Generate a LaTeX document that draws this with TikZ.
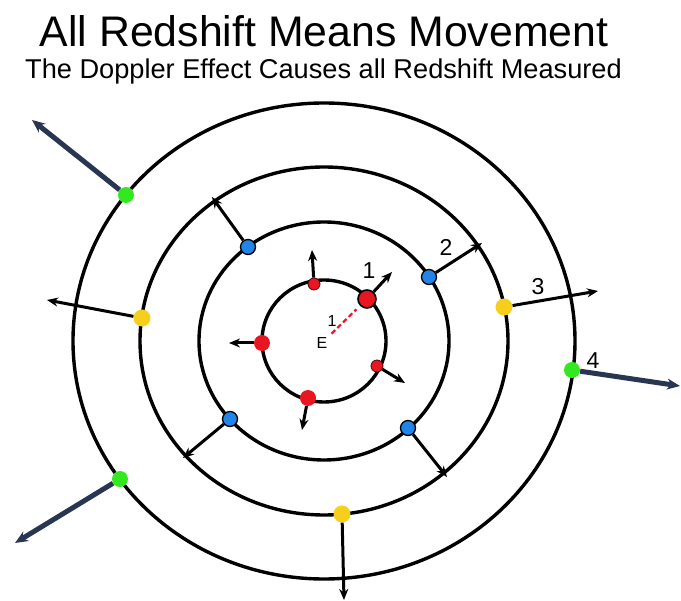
\documentclass[tikz,border=0pt]{standalone}
\usepackage{fontspec}
\setmainfont{Liberation Sans}
\usetikzlibrary{arrows.meta}

\definecolor{dotred}{RGB}{232,22,32}
\definecolor{dotblue}{RGB}{32,132,232}
\definecolor{dotyellow}{RGB}{246,206,28}
\definecolor{dotgreen}{RGB}{52,232,32}
\definecolor{navy}{RGB}{40,54,82}

\tikzset{
  ring/.style={draw=black, line width=3.4pt},
  mover/.style={draw=black, line width=3pt, -{Stealth[length=11pt,width=9pt]}},
  farmover/.style={draw=navy, line width=5pt, -{Stealth[length=13pt,width=11pt]}},
  dot/.style={circle, inner sep=0pt, minimum size=#1},
  reddot/.style={dot=#1, fill=dotred},
  bluedot/.style={dot=15pt, fill=dotblue, draw=black, line width=1.3pt},
  yellowdot/.style={dot=17pt, fill=dotyellow},
  greendot/.style={dot=16pt, fill=dotgreen},
  num/.style={font=\fontsize{23}{25}\selectfont},
}

\begin{document}
\begin{tikzpicture}[x=1pt, y=-1pt]
  \useasboundingbox (0,0) rectangle (681,601);

  \node[anchor=base, font=\fontsize{42.8}{50}\selectfont] (title) at (324,47) {All Redshift Means Movement};
  \node[anchor=base, font=\fontsize{27.2}{32}\selectfont] (subtitle) at (323.5,79) {The Doppler Effect Causes all Redshift Measured};

  \coordinate (C) at (324,341);
  \draw[ring] (C) ellipse [x radius=62pt, y radius=61pt];
  \draw[ring] (C) ellipse [x radius=125pt, y radius=119pt];
  \draw[ring] (C) ellipse [x radius=184pt, y radius=174pt];
  \draw[ring] (C) ellipse [x radius=251pt, y radius=238pt];

  \node[reddot=12pt, draw=black!70!dotred, line width=0.8pt] (red1) at (314,284) {};
  \node[reddot=18pt, draw=black, line width=1.6pt] (red2) at (367,299) {};
  \node[reddot=16pt] (red3) at (262,343) {};
  \node[reddot=12pt, draw=black!70!dotred, line width=0.8pt] (red4) at (377,366) {};
  \node[reddot=16pt] (red5) at (308,398) {};

  \node[bluedot] (blue1) at (248,247) {};
  \node[bluedot] (blue2) at (429,277) {};
  \node[bluedot] (blue3) at (230,419) {};
  \node[bluedot] (blue4) at (408,428) {};

  \node[yellowdot] (yel1) at (142,318) {};
  \node[yellowdot] (yel2) at (504,307) {};
  \node[yellowdot] (yel3) at (342,514) {};

  \node[greendot] (grn1) at (126,195) {};
  \node[greendot] (grn2) at (572,370) {};
  \node[greendot] (grn3) at (120,479) {};

  \coordinate (red1to) at (312,250);
  \coordinate (red2to) at (392,272);
  \coordinate (red3to) at (229,343);
  \coordinate (red4to) at (405,383);
  \coordinate (red5to) at (302,430);
  \coordinate (blue1to) at (212,197);
  \coordinate (blue2to) at (482,243);
  \coordinate (blue3to) at (183,458);
  \coordinate (blue4to) at (447,477);
  \coordinate (yel1to) at (47,300);
  \coordinate (yel2to) at (598,291);
  \coordinate (yel3to) at (344,600);
  \coordinate (grn1to) at (32,120);
  \coordinate (grn2to) at (680,386);
  \coordinate (grn3to) at (15,543);

  \foreach \d in {red1,red2,red3,red4,red5,blue1,blue2,blue3,blue4,yel1,yel2,yel3}
    \draw[mover] (\d) -- (\d to);
  \foreach \d in {grn1,grn2,grn3}
    \draw[farmover] (\d) -- (\d to);

  \node[font=\fontsize{16}{18}\selectfont] (E) at (322,343) {E};
  \draw[dotred, line width=2.2pt, dash pattern=on 5pt off 3pt, shorten <=1pt, shorten >=5pt] (E) -- (red2);
  \node[font=\fontsize{16}{18}\selectfont] (lab0) at (332,321) {1};

  \node[num] (lab1) at (369,271) {1};
  \node[num] (lab2) at (446,247) {2};
  \node[num] (lab3) at (538,287) {3};
  \node[num] (lab4) at (593,361) {4};
\end{tikzpicture}
\end{document}
